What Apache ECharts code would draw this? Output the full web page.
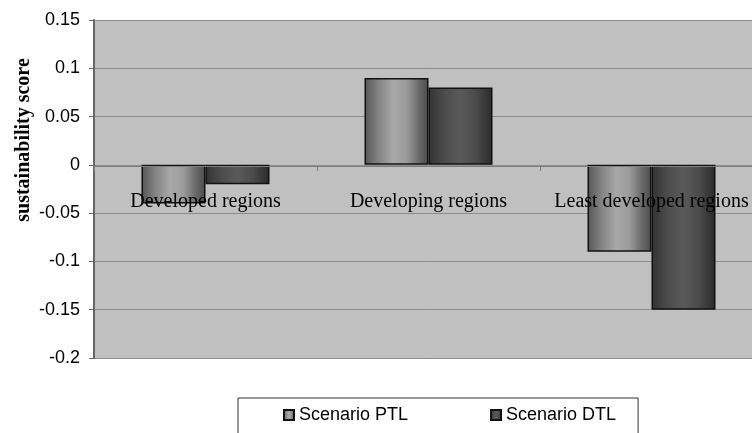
<!DOCTYPE html>
<html><head><meta charset="utf-8">
<script src="https://cdn.jsdelivr.net/npm/echarts@6/dist/echarts.min.js"></script>
<style>html,body{margin:0;padding:0;background:#fff;overflow:hidden;width:752px;height:433px}#c{width:763px;height:433px}</style>
</head><body><div id="c"></div>
<script>
const categories = ['Developed regions', 'Developing regions', 'Least developed regions'];
const seriesNames = ['Scenario PTL', 'Scenario DTL'];
const ptlValues = [-0.04, 0.09, -0.09];
const dtlValues = [-0.02, 0.08, -0.15];
const yTicks = { min: -0.2, max: 0.15, interval: 0.05 };

function grad(stops){
  return new echarts.graphic.LinearGradient(0,0,1,0, stops.map(s=>({offset:s[0],color:s[1]})));
}
const ptlFill = grad([[0,'#555555'],[0.2,'#808080'],[0.45,'#a8a8a8'],[0.65,'#9c9c9c'],[0.85,'#6a6a6a'],[1,'#4a4a4a']]);
const dtlFill = grad([[0,'#333333'],[0.25,'#4c4c4c'],[0.5,'#5a5a5a'],[0.75,'#4a4a4a'],[1,'#2a2a2a']]);

const chart = echarts.init(document.getElementById('c'), null, {renderer:'canvas'});
chart.setOption({
  animation:false,
  backgroundColor:'#ffffff',
  grid:{left:94, top:20, right:0, height:338, outerBoundsMode:'none', show:true, backgroundColor:'#c0c0c0', borderWidth:0},
  legend:{
    top:398, left:238,
    data:seriesNames, icon:'rect', itemWidth:10, itemHeight:10, itemGap:82,
    padding:[8,22,20,45],
    borderColor:'#333', borderWidth:1, backgroundColor:'#fff',
    textStyle:{fontFamily:'Liberation Sans, Arial', fontSize:18, color:'#000'}
  },
  xAxis:{
    type:'category', data:categories, z:10,
    axisLine:{onZero:false, lineStyle:{color:'#808080', width:1}},
    offset:-192,
    axisTick:{show:true, alignWithLabel:false, length:5, inside:false, lineStyle:{color:'#808080'}},
    axisLabel:{interval:0, margin:26, fontFamily:'Liberation Serif, Times New Roman', fontSize:20, color:'#000'},
    splitLine:{show:false}
  },
  yAxis:{
    type:'value', min:yTicks.min, max:yTicks.max, interval:yTicks.interval,
    name:'sustainability score', nameLocation:'middle', nameGap:60, nameRotate:90, nameMoveOverlap:false,
    nameTextStyle:{fontFamily:'Liberation Serif, Times New Roman', fontWeight:'bold', fontSize:20, color:'#000', padding:[0,0,0,98]},
    axisLine:{show:true, lineStyle:{color:'#666', width:2}},
    axisTick:{show:true, length:5, lineStyle:{color:'#666'}},
    axisLabel:{margin:14, fontFamily:'Liberation Sans, Arial', fontSize:18, color:'#000',
      formatter:v=>String(Math.round(v*100)/100)},
    splitLine:{show:true, lineStyle:{color:'#8c8c8c', width:1}}
  },
  series:[
    {name:seriesNames[0], type:'bar', data:ptlValues, barWidth:64, barGap:'0%',
     itemStyle:{color:ptlFill, borderColor:'#111', borderWidth:1.5}},
    {name:seriesNames[1], type:'bar', data:dtlValues, barWidth:64, barGap:'0%',
     itemStyle:{color:dtlFill, borderColor:'#111', borderWidth:1.5}}
  ]
});
</script></body></html>
